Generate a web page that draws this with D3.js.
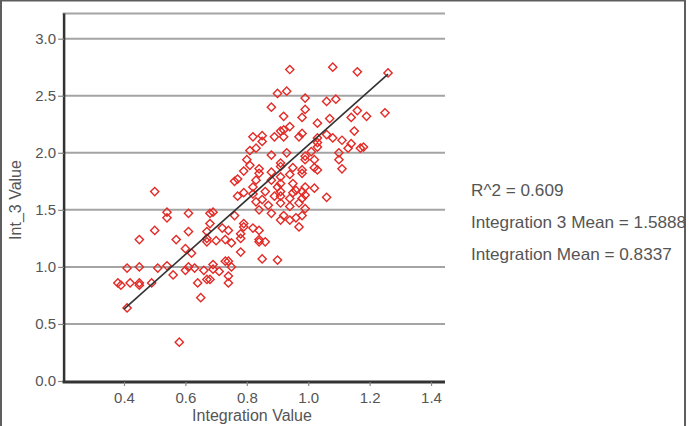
<!DOCTYPE html>
<html>
<head>
<meta charset="utf-8">
<script src="https://cdn.jsdelivr.net/npm/d3@7"></script>
<style>
  html, body { margin: 0; padding: 0; background: #fff; }
  svg { display: block; font-family: "Liberation Sans", Arial, sans-serif; }
</style>
</head>
<body>
<svg id="chart" width="691" height="426"></svg>
<script>
// ---- data ----
const xTickValues = [0.4, 0.6, 0.8, 1.0, 1.2, 1.4];
const yTickValues = [0.0, 0.5, 1.0, 1.5, 2.0, 2.5, 3.0];
const xDomain = [0.2, 1.44];
const yDomain = [0, 3.22];

const integrationValues = [
  0.94, 1.08, 1.16, 1.26, 0.90, 0.93, 0.99, 1.06, 1.09, 0.88,
  0.99, 1.16, 1.25, 1.19, 0.92, 0.98, 1.07, 1.14, 1.03, 0.94,
  0.92, 0.91, 1.15, 0.82, 0.85, 0.89, 0.92, 0.97, 0.98, 1.03,
  1.06, 1.08, 1.11, 1.13, 1.17, 1.18, 1.14, 1.10, 1.10, 1.03,
  1.03, 0.88, 0.93, 0.83, 0.81, 0.80, 0.81, 0.99, 0.99, 1.02,
  0.91, 0.91, 1.01, 1.11, 0.79, 1.03, 1.02, 0.98, 0.98, 0.88,
  0.84, 0.84, 0.94, 0.95, 0.91, 0.91, 0.83, 0.82, 0.88, 0.99,
  0.98, 0.99, 1.02, 1.06, 0.86, 0.79, 0.77, 0.82, 0.91, 0.91,
  0.95, 0.94, 0.89, 0.98, 0.97, 0.77, 0.76, 0.50, 0.87, 0.83,
  0.91, 0.94, 0.99, 0.84, 0.88, 0.92, 0.98, 0.91, 0.94, 0.96,
  0.97, 0.76, 0.54, 0.54, 0.61, 0.68, 0.69, 0.68, 0.67, 0.72,
  0.74, 0.79, 0.79, 0.82, 0.84, 0.61, 0.50, 0.45, 0.57, 0.67,
  0.67, 0.70, 0.73, 0.75, 0.78, 0.78, 0.84, 0.84, 0.86, 0.78,
  0.60, 0.62, 0.85, 0.90, 0.41, 0.45, 0.51, 0.54, 0.60, 0.61,
  0.63, 0.66, 0.69, 0.69, 0.71, 0.73, 0.74, 0.75, 0.56, 0.74,
  0.38, 0.39, 0.42, 0.45, 0.45, 0.49, 0.64, 0.67, 0.68, 0.74,
  0.65, 0.41, 0.58, 0.90, 0.95, 0.96, 0.85, 0.85
];
const int3Values = [
  2.73, 2.75, 2.71, 2.70, 2.52, 2.54, 2.48, 2.45, 2.47, 2.40,
  2.38, 2.37, 2.35, 2.32, 2.32, 2.31, 2.30, 2.31, 2.26, 2.23,
  2.20, 2.19, 2.19, 2.14, 2.15, 2.14, 2.14, 2.14, 2.17, 2.13,
  2.16, 2.13, 2.11, 2.04, 2.04, 2.05, 2.08, 2.00, 1.94, 2.05,
  2.09, 1.98, 2.00, 2.04, 2.02, 1.94, 1.89, 1.97, 1.94, 1.94,
  1.91, 1.88, 2.01, 1.86, 1.84, 1.85, 1.87, 1.85, 1.82, 1.83,
  1.86, 1.82, 1.81, 1.73, 1.79, 1.73, 1.76, 1.70, 1.76, 1.70,
  1.66, 1.63, 1.69, 1.61, 1.66, 1.65, 1.62, 1.64, 1.66, 1.62,
  1.65, 1.60, 1.62, 1.60, 1.56, 1.77, 1.75, 1.66, 1.54, 1.57,
  1.56, 1.53, 1.51, 1.50, 1.47, 1.45, 1.45, 1.41, 1.41, 1.43,
  1.35, 1.45, 1.48, 1.43, 1.47, 1.47, 1.48, 1.38, 1.31, 1.34,
  1.32, 1.35, 1.38, 1.34, 1.32, 1.31, 1.32, 1.24, 1.24, 1.22,
  1.25, 1.23, 1.24, 1.21, 1.29, 1.25, 1.24, 1.22, 1.22, 1.13,
  1.16, 1.12, 1.07, 1.06, 0.99, 1.00, 0.99, 1.01, 0.97, 1.00,
  0.99, 0.97, 1.02, 0.98, 0.96, 1.05, 1.05, 1.00, 0.93, 0.92,
  0.86, 0.84, 0.86, 0.86, 0.84, 0.86, 0.86, 0.89, 0.89, 0.86,
  0.73, 0.64, 0.34, 1.70, 1.87, 1.67, 2.10, 1.59
];
const trendX = [0.40, 1.26];
const trendY = [0.63, 2.69];
const statLabels = ["R^2 = 0.609", "Integration 3 Mean = 1.5888", "Integration Mean = 0.8337"];
const xTitle = "Integration Value";
const yTitle = "Int_3 Value";

// ---- drawing ----
const svg = d3.select("#chart");
const x = d3.scaleLinear().domain(xDomain).range([62.6, 443.3]);
const y = d3.scaleLinear().domain(yDomain).range([381, 13.6]);

// outer frame
svg.append("rect")
  .attr("x", 1).attr("y", 0.5).attr("width", 684).attr("height", 440)
  .attr("fill", "none").attr("stroke", "#5e5e5e").attr("stroke-width", 2);

// grid lines
svg.append("g").selectAll("line")
  .data(yTickValues.filter(v => v > 0).concat([yDomain[1]]))
  .join("line")
  .attr("x1", x(xDomain[0])).attr("x2", 445)
  .attr("y1", d => y(d)).attr("y2", d => y(d))
  .attr("stroke", "#a4a4a4").attr("stroke-width", 2);

// points
const pts = integrationValues.map((v, i) => ({x: v, y: int3Values[i]}));
const diamond = d3.symbol().type(d3.symbolSquare).size(34);
svg.append("g").selectAll("path")
  .data(pts)
  .join("path")
  .attr("d", diamond)
  .attr("transform", d => `translate(${x(d.x)},${y(d.y)}) rotate(45)`)
  .attr("fill", "none")
  .attr("stroke", "#e32b27")
  .attr("stroke-width", 1.4);

// trend line
const line = d3.line().x(d => x(d[0])).y(d => y(d[1]));
svg.append("path")
  .datum(trendX.map((v, i) => [v, trendY[i]]))
  .attr("d", line)
  .attr("fill", "none").attr("stroke", "#333").attr("stroke-width", 1.6);

// y axis
const yAxis = svg.append("g")
  .attr("transform", `translate(${x(xDomain[0]) + 1.5},0)`)
  .call(d3.axisLeft(y).tickValues(yTickValues).tickFormat(d3.format(".1f")).tickSize(6).tickPadding(2));
yAxis.select(".domain").attr("stroke", "#333").attr("stroke-width", 2.5)
  .attr("d", `M0,${y(yDomain[1])}V${y(0) + 1.5}`);
yAxis.selectAll(".tick line").attr("stroke", "#888").attr("stroke-width", 1.2);
yAxis.selectAll(".tick text").attr("fill", "#555").style("font-size", "15px")
  .style("font-family", "'Liberation Sans', Arial, sans-serif");

// x axis
const xAxis = svg.append("g")
  .attr("transform", `translate(0,${y(0) + 1})`)
  .call(d3.axisBottom(x).tickValues(xTickValues).tickFormat(d3.format(".1f")).tickSize(4).tickPadding(6));
xAxis.select(".domain").attr("stroke", "#333").attr("stroke-width", 3)
  .attr("d", `M${x(xDomain[0])},0H445`);
xAxis.selectAll(".tick line").attr("stroke", "#888").attr("stroke-width", 1.2);
xAxis.selectAll(".tick text").attr("fill", "#555").style("font-size", "15px")
  .style("font-family", "'Liberation Sans', Arial, sans-serif");

// axis titles
svg.append("text")
  .attr("transform", "translate(21,200) rotate(-90)")
  .attr("text-anchor", "middle").attr("fill", "#555")
  .style("font-size", "16px").text(yTitle);
svg.append("text")
  .attr("x", 252).attr("y", 421)
  .attr("text-anchor", "middle").attr("fill", "#555")
  .style("font-size", "16px").text(xTitle);

// statistics
svg.append("g").selectAll("text")
  .data(statLabels)
  .join("text")
  .attr("transform", (d, i) => `translate(471,${196 + i * 32}) scale(1.04,1)`)
  .attr("fill", "#555")
  .style("font-size", "16.5px")
  .text(d => d);
</script>
</body>
</html>
